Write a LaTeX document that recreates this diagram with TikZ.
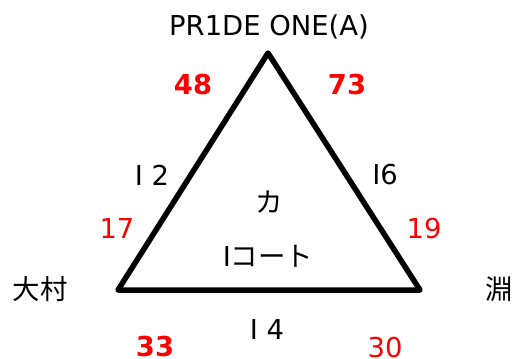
\documentclass[tikz,border=0pt]{standalone}
\usepackage{fontspec}
\setmainfont{DejaVu Sans}
\newfontfamily\jpfont{Noto Sans CJK JP}
\usetikzlibrary{positioning}
\begin{document}
\begin{tikzpicture}[x=1bp, y=-1bp, font=\fontsize{27.5}{32}\selectfont,
  lbl/.style={inner sep=0pt},
  num/.style={lbl, text=red},
  bnum/.style={num, font=\fontsize{27.5}{32}\selectfont\bfseries}]
\useasboundingbox (0,0) rectangle (516,358);
% corners of the triangle
\coordinate (top) at (268,53);
\coordinate (bl) at (118,290);
\coordinate (br) at (420,290);
\draw[line width=5.5bp, line join=round] (top) -- (bl) -- (br) -- cycle;
% team names
\node[lbl] (pride) at (269,27) {PR1DE ONE(A)};
\node[lbl] (omura) at (40,289) {\jpfont 大村};
\node[lbl] (fuchi) at (499,289) {\jpfont 淵};
% sides and middle
\node[lbl] (s2) at (152,175) {I 2};
\node[lbl] (s6) at (385,175) {I6};
\node[lbl] (s4) at (267,330) {I 4};
\node[lbl] (ka) at (269,202) {\jpfont カ};
\node[lbl] (court) at (268,256) {I\jpfont コート};
% scores
\node[bnum] (n48) at (193,85) {48};
\node[bnum] (n73) at (347,85) {73};
\node[num] (n17) at (117,229) {17};
\node[num] (n19) at (424,229) {19};
\node[bnum] (n33) at (155,347) {33};
\node[num] (n30) at (385,348) {30};
\end{tikzpicture}
\end{document}
